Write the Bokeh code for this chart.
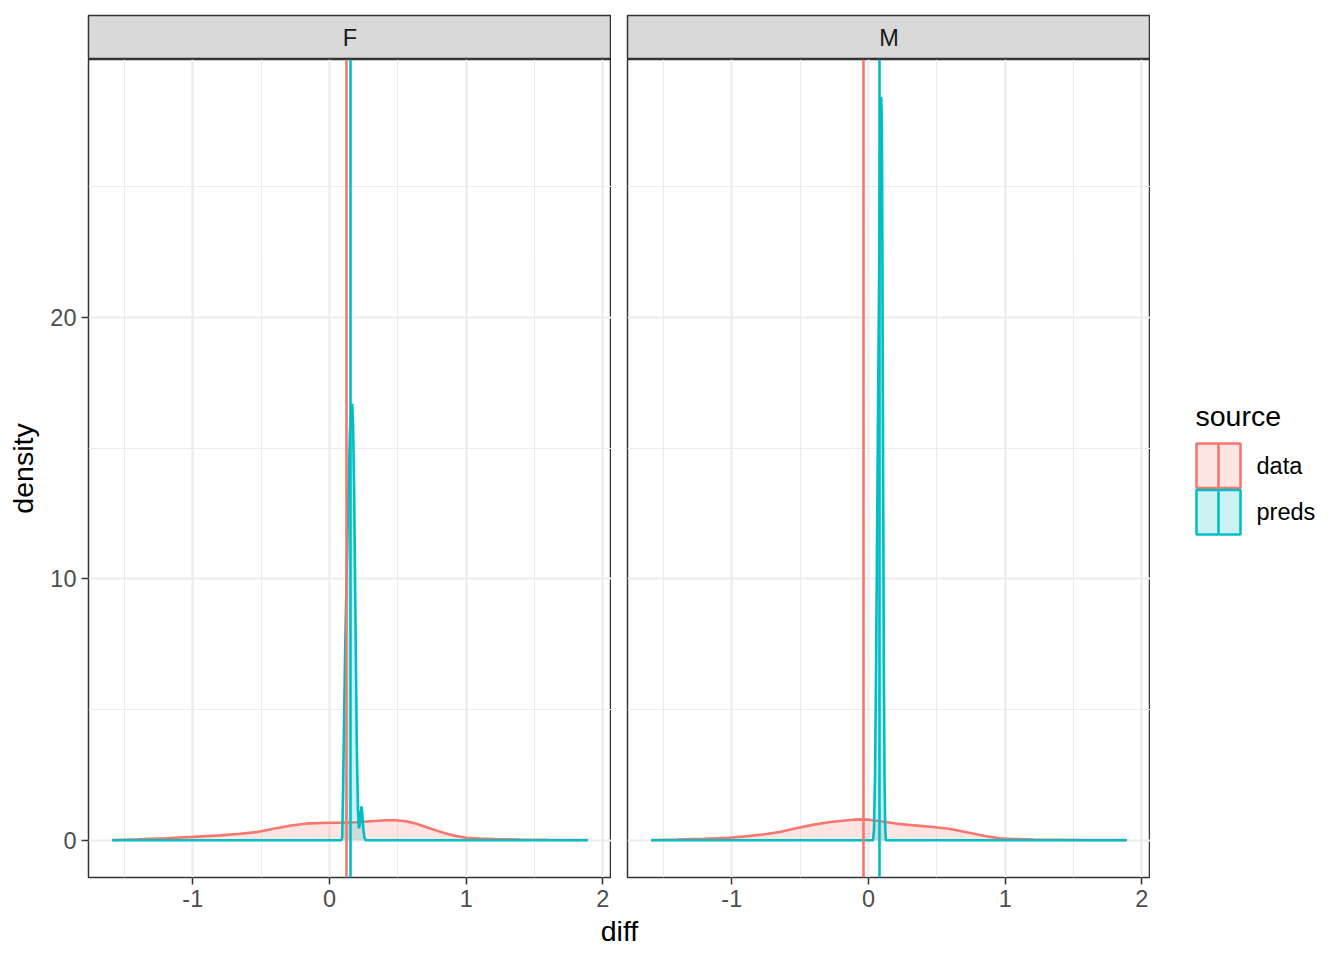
from bokeh.plotting import figure
from bokeh.layouts import row, column
from bokeh.models import FixedTicker, Range1d
from bokeh.embed import file_html
from bokeh.resources import INLINE
from bokeh.core.properties import value

# ---------------- data ----------------
panels = ["F", "M"]
source_names = ["data", "preds"]
source_colors = ["#F8766D", "#00BFC4"]

F_data_x = [-1.589, -1.4, -1.2, -1.0, -0.8, -0.65, -0.53, -0.4, -0.28, -0.15, 0.0, 0.1, 0.2, 0.3,
            0.41, 0.48, 0.56, 0.63, 0.7, 0.78, 0.85, 0.92, 1.0, 1.1, 1.21, 1.4, 1.6, 1.889]
F_data_y = [0.01, 0.04, 0.08, 0.13, 0.19, 0.25, 0.32, 0.45, 0.57, 0.65, 0.67, 0.67, 0.69, 0.73,
            0.77, 0.77, 0.73, 0.64, 0.52, 0.38, 0.26, 0.17, 0.1, 0.07, 0.05, 0.03, 0.02, 0.01]

F_preds_x = [-1.589, 0.085, 0.093, 0.1, 0.108, 0.115, 0.125, 0.138, 0.15, 0.16, 0.166, 0.172, 0.18,
             0.19, 0.2, 0.208, 0.215, 0.222, 0.229, 0.234, 0.24, 0.248, 0.256, 0.263, 0.27, 1.889]
F_preds_y = [0.0, 0.0, 0.1, 2.2, 5.0, 7.4, 10.0, 13.2, 15.6, 16.5, 16.7, 16.0, 13.5,
             8.5, 3.5, 1.2, 0.45, 0.6, 1.1, 1.3, 1.0, 0.4, 0.1, 0.02, 0.0, 0.0]

M_data_x = [-1.589, -1.4, -1.2, -1.02, -0.9, -0.77, -0.65, -0.53, -0.4, -0.28, -0.15, -0.08, 0.0,
            0.09, 0.2, 0.34, 0.47, 0.59, 0.7, 0.79, 0.88, 0.96, 1.05, 1.21, 1.4, 1.6, 1.889]
M_data_y = [0.01, 0.03, 0.06, 0.1, 0.15, 0.22, 0.32, 0.46, 0.6, 0.7, 0.77, 0.8, 0.79,
            0.73, 0.64, 0.57, 0.51, 0.44, 0.33, 0.23, 0.14, 0.08, 0.05, 0.03, 0.02, 0.01, 0.01]

M_preds_x = [-1.589, 0.033, 0.04, 0.048, 0.056, 0.064, 0.072, 0.08, 0.087, 0.093, 0.098, 0.102,
             0.107, 0.112, 0.117, 0.122, 0.127, 1.889]
M_preds_y = [0.0, 0.0, 0.4, 2.5, 7.0, 12.5, 18.0, 23.0, 27.0, 28.45, 27.5, 22.0,
             14.0, 7.0, 2.5, 0.6, 0.0, 0.0]

F_means = [0.124, 0.157]    # data, preds
M_means = [-0.037, 0.083]   # data, preds

x_ticks = [-1, 0, 1, 2]
x_tick_labels = ["-1", "0", "1", "2"]
x_minor = [-1.5, -0.5, 0.5, 1.5]
y_ticks = [0, 10, 20]
y_tick_labels = ["0", "10", "20"]
y_minor = [5, 15, 25]

x_title = "diff"
y_title = "density"
legend_title = "source"

curves = {
    "F": [(F_data_x, F_data_y), (F_preds_x, F_preds_y)],
    "M": [(M_data_x, M_data_y), (M_preds_x, M_preds_y)],
}
means = {"F": F_means, "M": M_means}

# ---------------- scales (ggplot-like 5% expansion) ----------------
all_x = F_data_x + F_preds_x + M_data_x + M_preds_x + F_means + M_means
all_y = F_data_y + F_preds_y + M_data_y + M_preds_y + [0.0]
xmin, xmax = min(all_x), max(all_x)
ymin, ymax = min(all_y), max(all_y)
xpad = 0.05 * (xmax - xmin)
ypad = 0.05 * (ymax - ymin)

FONT = "Liberation Sans"
FW, FH = 523, 818
LEFT_B, GAP = 88, 16
LEG_W = 186
TOP_B, STRIP_H = 15, 44
BOTTOM_B = 37
XLAB_H = 40
LINE_W = 2.6
TICK_FS = "23.5px"
TITLE_FS = "28.5px"


def make_panel(name, show_y):
    p = figure(frame_width=FW, frame_height=FH,
               min_border_left=LEFT_B if show_y else GAP,
               min_border_right=0,
               min_border_top=0, min_border_bottom=BOTTOM_B,
               x_range=Range1d(xmin - xpad, xmax + xpad),
               y_range=Range1d(ymin - ypad, ymax + ypad),
               title=None, output_backend="svg", toolbar_location=None,
               background_fill_color="white", border_fill_color="white")
    p.outline_line_color = "#333333"
    p.outline_line_width = 1.5

    xt = FixedTicker(ticks=x_ticks, minor_ticks=x_minor)
    yt = FixedTicker(ticks=y_ticks, minor_ticks=y_minor)
    for g, t in ((p.xgrid[0], xt), (p.ygrid[0], yt)):
        g.ticker = t
        g.grid_line_color = "#EBEBEB"
        g.grid_line_width = 2.2
        g.minor_grid_line_color = "#EBEBEB"
        g.minor_grid_line_width = 1.1

    ax = p.xaxis[0]
    ax.ticker = xt
    ax.major_label_overrides = {t: l for t, l in zip(x_ticks, x_tick_labels)}
    ay = p.yaxis[0]
    ay.ticker = yt
    ay.major_label_overrides = {t: l for t, l in zip(y_ticks, y_tick_labels)}
    for a in (ax, ay):
        a.axis_line_color = None
        a.major_tick_out = 7
        a.major_tick_in = 0
        a.major_tick_line_color = "#333333"
        a.major_tick_line_width = 1.5
        a.minor_tick_line_color = None
        a.major_label_text_font = FONT
        a.major_label_text_font_size = TICK_FS
        a.major_label_text_color = "#4D4D4D"
        a.major_label_standoff = 5
    if show_y:
        ay.axis_label = y_title
        ay.axis_label_text_font = FONT
        ay.axis_label_text_font_size = TITLE_FS
        ay.axis_label_text_font_style = "normal"
        ay.axis_label_text_color = "black"
        ay.axis_label_standoff = 8
    else:
        ay.visible = False

    for (xs, ys), col in zip(curves[name], source_colors):
        p.varea(x=xs, y1=0, y2=ys, fill_color=col, fill_alpha=0.2)
        p.line(xs, ys, line_color=col, line_width=LINE_W)
    for m, col in zip(means[name], source_colors):
        p.vspan(x=[m], line_color=col, line_width=LINE_W)
    return p


def make_strip(name, show_y):
    s = figure(frame_width=FW, frame_height=STRIP_H,
               min_border_left=LEFT_B if show_y else GAP,
               min_border_right=0,
               min_border_top=TOP_B, min_border_bottom=0,
               x_range=Range1d(0, 1), y_range=Range1d(0, 1),
               title=None, output_backend="svg", toolbar_location=None,
               background_fill_color="#D9D9D9", border_fill_color="white")
    s.axis.visible = False
    s.grid.visible = False
    s.outline_line_color = "#333333"
    s.outline_line_width = 1.5
    s.text(x=[0.5], y=[0.5], text=[name], text_align="center", text_baseline="middle",
           text_font=value(FONT), text_font_size=TICK_FS, text_color="#1A1A1A")
    return s


pF = make_panel("F", True)
pM = make_panel("M", False)
sF = make_strip("F", True)
sM = make_strip("M", False)

# ---------------- legend (own figure to the right, pixel coordinates) ----------------
col_h = TOP_B + STRIP_H + FH + BOTTOM_B
lg = figure(frame_width=LEG_W, frame_height=col_h, min_border=0,
            x_range=Range1d(0, LEG_W), y_range=Range1d(col_h, 0),
            title=None, output_backend="svg", toolbar_location=None,
            background_fill_color="white", border_fill_color="white")
lg.axis.visible = False
lg.grid.visible = False
lg.outline_line_color = None

KEY_X, KEY_W, KEY_Y0, KEY_H, KEY_STEP = 46, 44, 443, 44.5, 46.5
LABEL_X, TITLE_X, TITLE_Y = 106, 45, 415

lg.text(x=[TITLE_X], y=[TITLE_Y], text=[legend_title], text_align="left", text_baseline="middle",
        text_font=value(FONT), text_font_size=TITLE_FS, text_color="black")
for i, (name, col) in enumerate(zip(source_names, source_colors)):
    top = KEY_Y0 + i * KEY_STEP
    lg.quad(left=[KEY_X], right=[KEY_X + KEY_W], top=[top], bottom=[top + KEY_H],
            fill_color=col, fill_alpha=0.2, line_color=col, line_width=LINE_W)
    lg.segment(x0=[KEY_X + KEY_W / 2], x1=[KEY_X + KEY_W / 2], y0=[top], y1=[top + KEY_H],
               line_color=col, line_width=LINE_W)
    lg.text(x=[LABEL_X], y=[top + KEY_H / 2], text=[name], text_align="left",
            text_baseline="middle", text_font=value(FONT), text_font_size=TICK_FS,
            text_color="black")

# ---------------- x-axis title spanning both panels ----------------
total_w = LEFT_B + FW + GAP + FW + LEG_W
xl = figure(frame_width=total_w, frame_height=XLAB_H, min_border=0,
            x_range=Range1d(0, total_w), y_range=Range1d(0, XLAB_H),
            title=None, output_backend="svg", toolbar_location=None,
            background_fill_color="white", border_fill_color="white")
xl.axis.visible = False
xl.grid.visible = False
xl.outline_line_color = None
xl.text(x=[(LEFT_B + LEFT_B + FW + GAP + FW) / 2], y=[XLAB_H - 16], text=[x_title],
        text_align="center", text_baseline="middle",
        text_font=value(FONT), text_font_size=TITLE_FS, text_color="black")

layout = column(row(column(sF, pF), column(sM, pM), lg), xl)
open("out.html", "w").write(file_html(layout, INLINE))
